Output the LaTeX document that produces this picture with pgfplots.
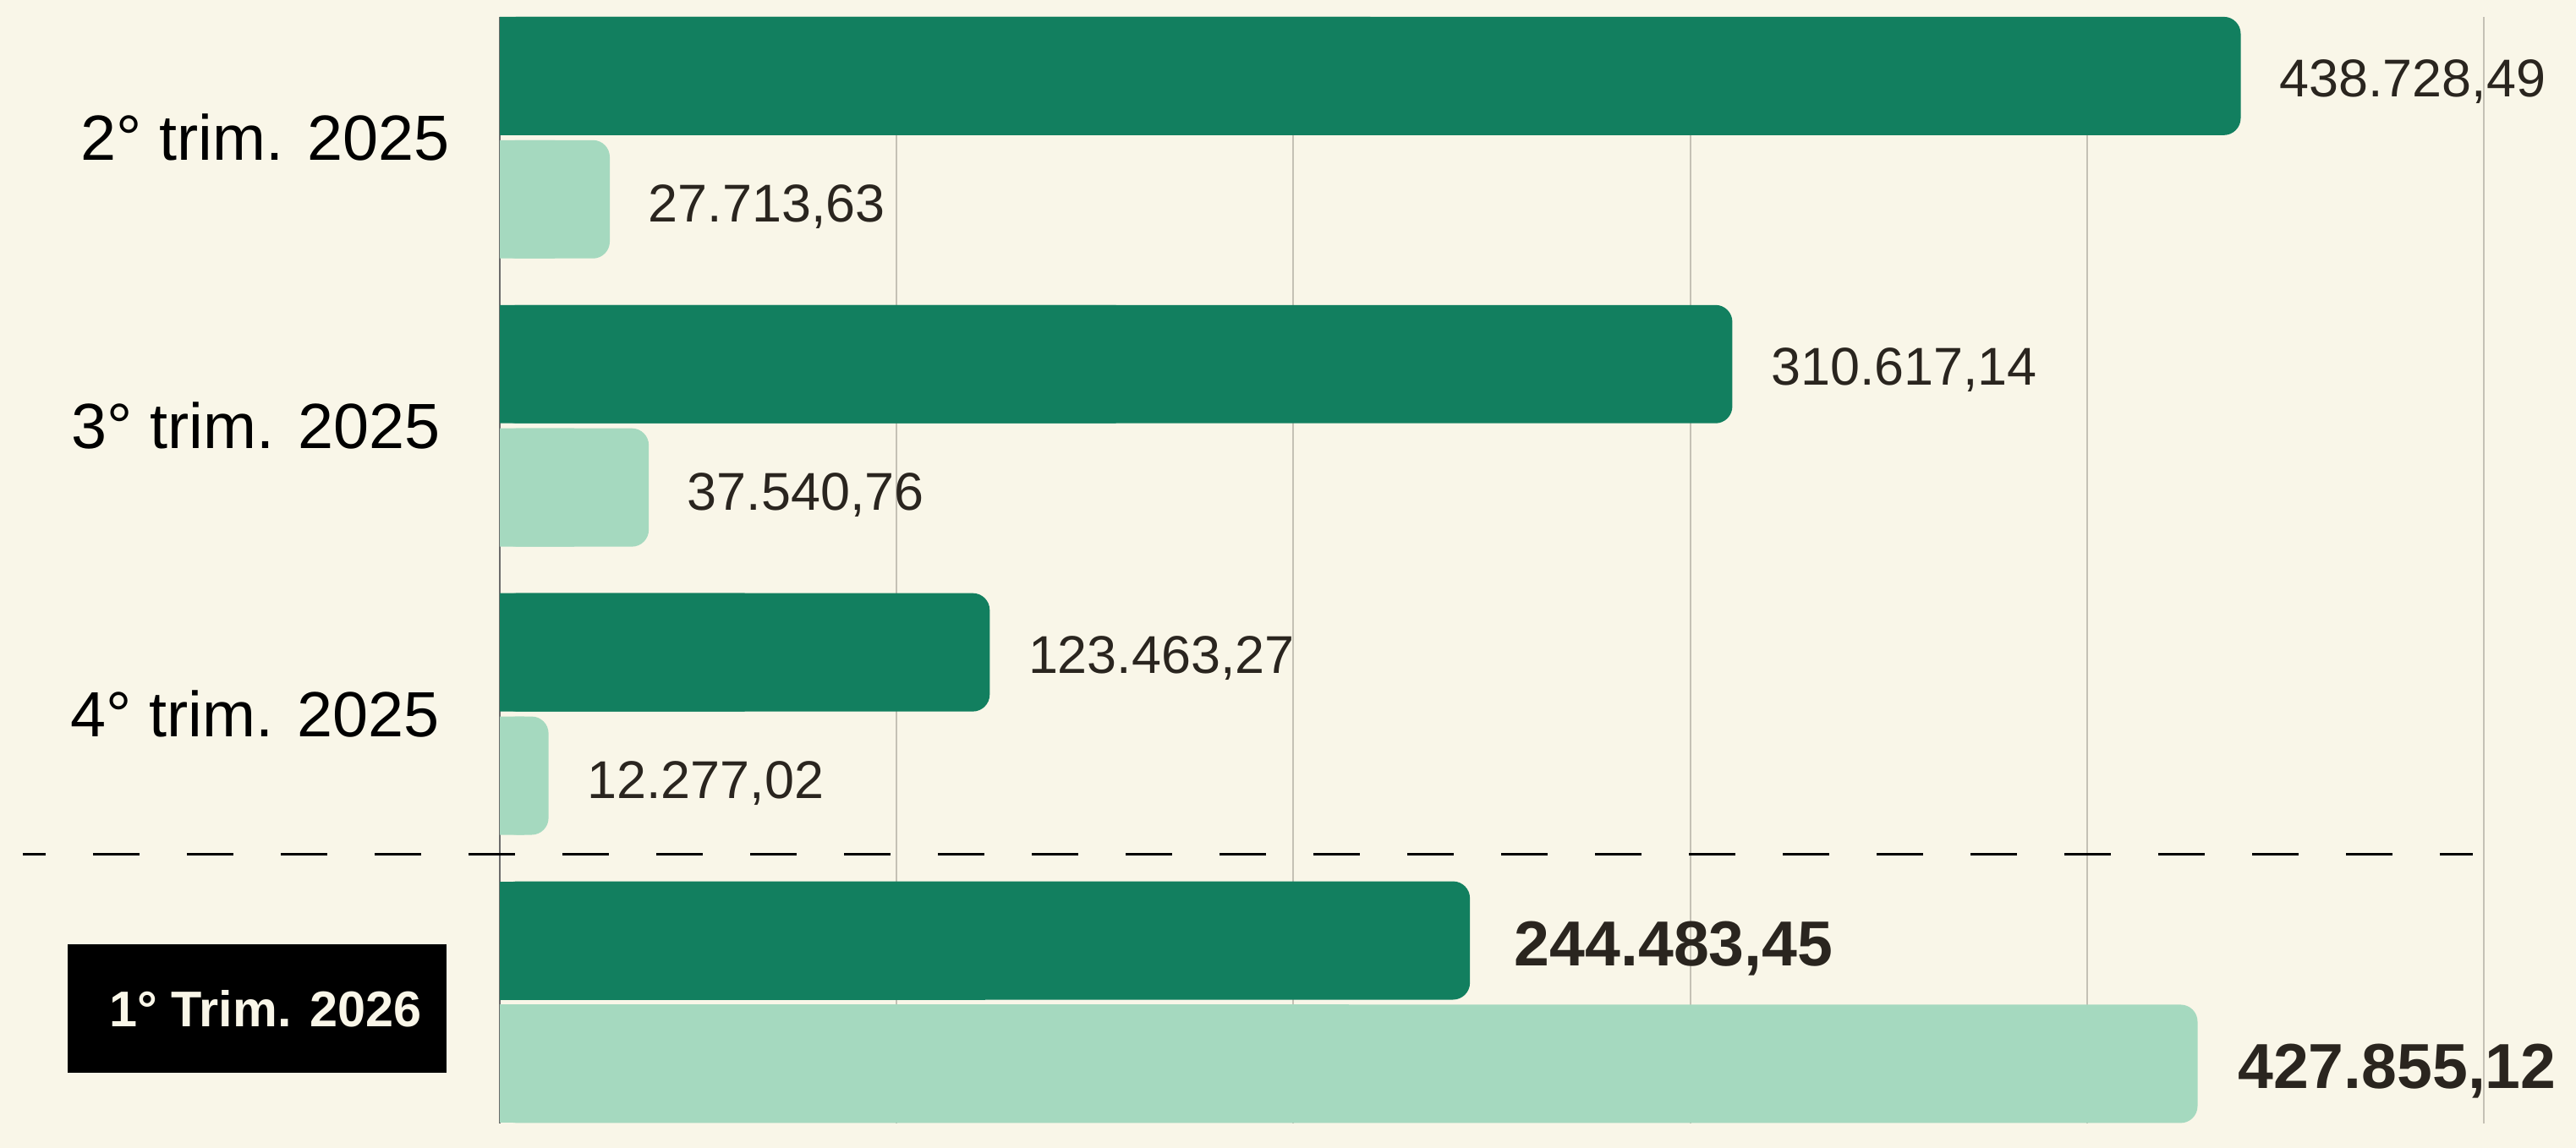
\documentclass[border=0pt]{standalone}
\usepackage{fontspec}
\setmainfont{Liberation Sans}
\usepackage{pgfplots}
\usepackage{pgfplotstable}
\pgfplotsset{compat=1.18}
\definecolor{bgc}{HTML}{F9F6E8}
\definecolor{darkg}{HTML}{127F5F}
\definecolor{lightg}{HTML}{A5D9BF}
\definecolor{txt}{HTML}{2A251F}
\definecolor{gridc}{HTML}{C5C1B5}
\definecolor{axisc}{HTML}{6B6B6B}

\pgfplotstableread{
y dark darklab light lightlab
0 438728.49 438.728,49 27713.63 27.713,63
1 310617.14 310.617,14 37540.76 37.540,76
2 123463.27 123.463,27 12277.02 12.277,02
}\main
\pgfplotstableread{
y dark darklab light lightlab
3 244483.45 244.483,45 427855.12 427.855,12
}\hilite

\begin{document}
\begin{tikzpicture}[x=1cm,y=1cm]
\fill[bgc] (0,0) rectangle (30.46,13.58);
\begin{axis}[
  at={(5.91cm,13.38cm)}, anchor=north west,
  scale only axis, width=23.46cm, height=13.09cm,
  xmin=0, xmax=500000, ymin=-0.419, ymax=3.421,
  y dir=reverse,
  clip=false,
  axis line style={draw=none},
  major tick length=0pt,
  scaled x ticks=false,
  xtick={100000,200000,300000,400000,500000},
  xticklabels={},
  ytick=\empty,
  xmajorgrids,
  grid style={color=gridc, line width=0.6pt},
  extra x ticks={0},
  extra x tick labels={},
  extra x tick style={grid style={color=axisc, line width=0.6pt}},
  bar width=0.4106,
]
% dark bars, regular quarters
\addplot[xbar, bar shift=-0.214, fill=darkg, draw=none, forget plot,
  x filter/.expression={x/2}]
  table[x=dark, y=y]{\main};
\addplot[xbar, bar shift=-0.214, fill=darkg, draw=none, rounded corners=0.2cm,
  point meta=explicit symbolic, nodes near coords,
  every node near coord/.append style={anchor=west, xshift=0.45cm, yshift=0.66cm, inner sep=0pt,
    font=\fontsize{17.9}{20}\selectfont, text=txt}]
  table[x=dark, y=y, meta=darklab]{\main};
% light bars, regular quarters
\addplot[xbar, bar shift=0.214, fill=lightg, draw=none, forget plot,
  x filter/.expression={x/2}]
  table[x=light, y=y]{\main};
\addplot[xbar, bar shift=0.214, fill=lightg, draw=none, rounded corners=0.2cm,
  point meta=explicit symbolic, nodes near coords,
  every node near coord/.append style={anchor=west, xshift=0.45cm, yshift=-0.82cm, inner sep=0pt,
    font=\fontsize{17.9}{20}\selectfont, text=txt}]
  table[x=light, y=y, meta=lightlab]{\main};
% highlighted quarter
\addplot[xbar, bar shift=-0.214, fill=darkg, draw=none, forget plot,
  x filter/.expression={x/2}]
  table[x=dark, y=y]{\hilite};
\addplot[xbar, bar shift=-0.214, fill=darkg, draw=none, rounded corners=0.2cm,
  point meta=explicit symbolic, nodes near coords,
  every node near coord/.append style={anchor=west, xshift=0.52cm, yshift=0.63cm, inner sep=0pt,
    font=\bfseries\fontsize{21.4}{24}\selectfont, text=txt}]
  table[x=dark, y=y, meta=darklab]{\hilite};
\addplot[xbar, bar shift=0.214, fill=lightg, draw=none, forget plot,
  x filter/.expression={x/2}]
  table[x=light, y=y]{\hilite};
\addplot[xbar, bar shift=0.214, fill=lightg, draw=none, rounded corners=0.2cm,
  point meta=explicit symbolic, nodes near coords,
  every node near coord/.append style={anchor=west, xshift=0.47cm, yshift=-0.82cm, inner sep=0pt,
    font=\bfseries\fontsize{21.4}{24}\selectfont, text=txt}]
  table[x=light, y=y, meta=lightlab]{\hilite};

% category labels
\node[anchor=east, inner sep=0pt, font=\fontsize{21.5}{24}\selectfont, text=black]
  at ([xshift=-0.59cm]axis cs:0,0) {2° trim. 2025};
\node[anchor=east, inner sep=0pt, font=\fontsize{21.5}{24}\selectfont, text=black]
  at ([xshift=-0.70cm]axis cs:0,1) {3° trim. 2025};
\node[anchor=east, inner sep=0pt, font=\fontsize{21.5}{24}\selectfont, text=black]
  at ([xshift=-0.71cm]axis cs:0,2) {4° trim. 2025};
\node[fill=black, minimum width=4.48cm, minimum height=1.52cm, inner sep=0pt,
  text=bgc, font=\bfseries\fontsize{16.9}{19}\selectfont]
  at ([xshift=-2.87cm, yshift=-0.075cm]axis cs:0,3) {\hspace*{0.2cm}1° Trim. 2026};
% separator
\draw[black, line width=0.03cm, dash pattern=on 0.55cm off 0.56cm, dash phase=0.28cm]
  ([xshift=-5.64cm]axis cs:0,2.487) -- (axis cs:497200,2.487);
\end{axis}
\end{tikzpicture}
\end{document}
